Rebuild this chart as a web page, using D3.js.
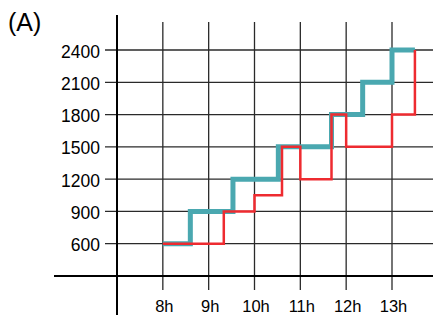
<!DOCTYPE html>
<head>
<meta charset="utf-8">
<style>
body {
  margin: 0;
  background: #fff;
}
text {
  font-family: "Liberation Sans", Arial, Helvetica, sans-serif;
  fill: #000;
}
.grid {
  stroke: #2a2a2a;
  stroke-width: 1.3px;
}
.axis {
  stroke: #000;
  stroke-width: 2px;
}
.teal {
  fill: none;
  stroke: #4aa8b0;
  stroke-width: 5px;
  stroke-linejoin: miter;
}
.red {
  fill: none;
  stroke: #ee2b30;
  stroke-width: 2.5px;
  stroke-linejoin: miter;
}
</style>
</head>
<body>
<script src="https://d3js.org/d3.v7.min.js"></script>
<script>
// hours along the bottom, values up the side
var hours = [8, 9, 10, 11, 12, 13];
var hourLabels = ["8h", "9h", "10h", "11h", "12h", "13h"];
var levels = [600, 900, 1200, 1500, 1800, 2100, 2400];

// teal series (thick), step changes
var tealTimes  = [8, 8.6, 9.53, 10.52, 11.68, 12.36, 13, 13.5];
var tealValues = [600, 900, 1200, 1500, 1800, 2100, 2400, 2400];

// red series (thin), step changes
var redTimes  = [8, 9.33, 10, 10.6, 11, 11.68, 12, 13, 13.5];
var redValues = [600, 900, 1050, 1500, 1200, 1800, 1500, 1800, 2400];

var W = 433, H = 315;

var x = d3.scaleLinear().domain([7, 13]).range([117, 392]);
var y = d3.scaleLinear().domain([300, 2400]).range([276, 50]);

var svg = d3.select("body").append("svg")
  .attr("width", W)
  .attr("height", H);

// grid
svg.append("g").selectAll("line").data(hours).join("line")
  .attr("class", "grid")
  .attr("x1", d => x(d)).attr("x2", d => x(d))
  .attr("y1", 22).attr("y2", 290);

svg.append("g").selectAll("line").data(levels).join("line")
  .attr("class", "grid")
  .attr("x1", 105).attr("x2", 433)
  .attr("y1", d => y(d)).attr("y2", d => y(d));

// axes
svg.append("line").attr("class", "axis")
  .attr("x1", x(7)).attr("x2", x(7))
  .attr("y1", 15).attr("y2", H);
svg.append("line").attr("class", "axis")
  .attr("x1", 54).attr("x2", W)
  .attr("y1", y(300)).attr("y2", y(300));

// labels
svg.append("g").selectAll("text").data(levels).join("text")
  .attr("x", 100)
  .attr("y", d => y(d))
  .attr("dy", "0.43em")
  .attr("text-anchor", "end")
  .style("font-size", "17.5px")
  .text(d => d);

svg.append("g").selectAll("text").data(hours).join("text")
  .attr("x", d => x(d) + 1.5)
  .attr("y", 312)
  .attr("text-anchor", "middle")
  .style("font-size", "16.5px")
  .text((d, i) => hourLabels[i]);

svg.append("text")
  .attr("x", 8)
  .attr("y", 31)
  .style("font-size", "25px")
  .text("(A)");

// series
var line = d3.line()
  .x(d => x(d[0]))
  .y(d => y(d[1]))
  .curve(d3.curveStepAfter);

svg.append("path").attr("class", "teal")
  .attr("d", line(d3.zip(tealTimes, tealValues)));

svg.append("path").attr("class", "red")
  .attr("d", line(d3.zip(redTimes, redValues)));
</script>
</body>
